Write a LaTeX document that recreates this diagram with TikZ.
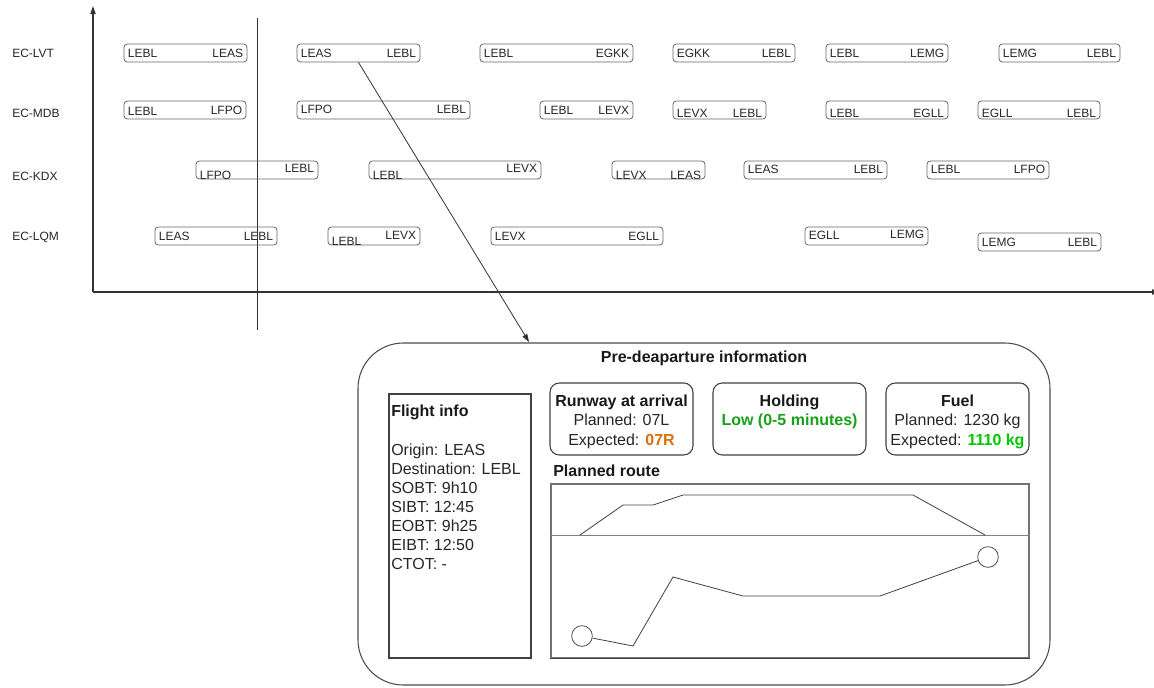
\documentclass[tikz,border=0pt]{standalone}
\usepackage{fontspec}
\setmainfont{Liberation Sans}
\usetikzlibrary{fit,calc,arrows.meta}
\definecolor{runorange}{RGB}{217,112,10}
\definecolor{holdgreen}{RGB}{25,160,25}
\definecolor{fuelgreen}{RGB}{0,200,0}

% one rotation leg: name, x-left, x-right, y-centre, origin, destination, dy origin, dy destination
\newcommand\legbox[8]{%
  \node[legframe, fit={(#2,#4-9) (#3,#4+9)}] (#1) {};
  \node[legtext, anchor=base west] (#1o) at ($(#1.west)+(4,4.3+#7)$) {#5};
  \node[legtext, anchor=base east] (#1d) at ($(#1.east)+(-4,4.3+#8)$) {#6};
}

\begin{document}
\begin{tikzpicture}[x=0.75pt,y=-0.75pt,
  legframe/.style={draw=black!60, rounded corners=2.5pt, inner sep=0pt, line width=0.6pt},
  legtext/.style={font=\fontsize{9}{10}\selectfont, text=black!85, inner sep=0pt},
  reglabel/.style={font=\fontsize{9}{10}\selectfont, text=black!85, inner sep=0pt, anchor=west},
  axisline/.style={draw=black!80, line width=0.8pt, -{Triangle[length=6pt,width=4pt]}},
  conn/.style={draw=black!80, line width=0.6pt, -{Triangle[length=6pt,width=4pt]}},
  panelframe/.style={draw=black!70, line width=0.8pt, rounded corners=34pt, inner sep=0pt},
  infoframe/.style={draw=black!75, line width=0.8pt, rounded corners=7pt, inner sep=0pt},
  plainframe/.style={draw=black!75, line width=0.8pt, inner sep=0pt},
  routeframe/.style={draw=black!55, line width=0.8pt, inner sep=0pt},
  bodytext/.style={font=\fontsize{12}{14}\selectfont, text=black!85, inner sep=0pt},
  headtext/.style={font=\bfseries\fontsize{12}{14}\selectfont, text=black!90, inner sep=0pt},
  routeline/.style={draw=black!75, line width=0.6pt}
]
\useasboundingbox (0,0) rectangle (1154,687);

% axes and the "now" marker
\coordinate (origin) at (93,292);
\coordinate (ytop) at (93,6);
\coordinate (xend) at (1160,292);
\draw[axisline] (origin) -- (ytop);
\draw[axisline] (origin) -- (xend);
\coordinate (nowtop) at (257,18);
\coordinate (nowbot) at (257,330);
\draw[draw=black!80, line width=0.6pt] (nowtop) -- (nowbot);

% registrations
\node[reglabel] (lvt) at (12,53) {EC-LVT};
\node[reglabel] (mdb) at (12,113) {EC-MDB};
\node[reglabel] (kdx) at (12,176) {EC-KDX};
\node[reglabel] (lqm) at (12,237) {EC-LQM};

% EC-LVT
\legbox{a1}{124}{247}{53}{LEBL}{LEAS}{0}{0}
\legbox{a2}{297}{420}{53}{LEAS}{LEBL}{0}{0}
\legbox{a3}{480}{633}{53}{LEBL}{EGKK}{0}{0}
\legbox{a4}{673}{795}{53}{EGKK}{LEBL}{0}{0}
\legbox{a5}{826}{948}{53}{LEBL}{LEMG}{0}{0}
\legbox{a6}{999}{1120}{53}{LEMG}{LEBL}{0}{0}
% EC-MDB
\legbox{b1}{124}{246}{110}{LEBL}{LFPO}{1}{0}
\legbox{b2}{297}{470}{110}{LFPO}{LEBL}{-1}{-1}
\legbox{b3}{540}{633}{110}{LEBL}{LEVX}{0}{0}
\legbox{b4}{673}{766}{110}{LEVX}{LEBL}{3}{3}
\legbox{b5}{826}{948}{110}{LEBL}{EGLL}{3}{3}
\legbox{b6}{978}{1100}{110}{EGLL}{LEBL}{3}{3}
% EC-KDX
\legbox{c1}{196}{318}{170}{LFPO}{LEBL}{5}{-2}
\legbox{c2}{369}{541}{170}{LEBL}{LEVX}{5}{-2}
\legbox{c3}{612}{705}{170}{LEVX}{LEAS}{5}{5}
\legbox{c4}{744}{887}{170}{LEAS}{LEBL}{-1}{-1}
\legbox{c5}{927}{1049}{170}{LEBL}{LFPO}{-1}{-1}
% EC-LQM
\legbox{d1}{155}{277}{236}{LEAS}{LEBL}{0}{0}
\legbox{d2}{328}{420}{236}{LEBL}{LEVX}{5}{-1}
\legbox{d3}{491}{663}{236}{LEVX}{EGLL}{0}{0}
\legbox{d4}{805}{928}{236}{EGLL}{LEMG}{-1}{-2}
\legbox{d5}{978}{1101}{242}{LEMG}{LEBL}{0}{0}

% detail panel for the selected leg
\node[panelframe, fit={(358,343) (1050,685)}] (panel) {};
\coordinate (arrtip) at (529,342);
\draw[conn] (a2.south) -- (arrtip);
\node[headtext] (title) at (704,358) {Pre-deaparture information};

% flight info
\node[plainframe, fit={(389,394) (531,658)}] (finfo) {};
\node[headtext, anchor=base west] (fi0) at (391,416) {Flight info};
\node[bodytext, anchor=base west] (fi1) at (391,455) {Origin: LEAS};
\node[bodytext, anchor=base west] (fi2) at (391,474) {Destination: LEBL};
\node[bodytext, anchor=base west] (fi3) at (391,493) {SOBT: 9h10};
\node[bodytext, anchor=base west] (fi4) at (391,512) {SIBT: 12:45};
\node[bodytext, anchor=base west] (fi5) at (391,531) {EOBT: 9h25};
\node[bodytext, anchor=base west] (fi6) at (391,550) {EIBT: 12:50};
\node[bodytext, anchor=base west] (fi7) at (391,569) {CTOT: -};

% runway
\node[infoframe, fit={(550,383) (693,455)}] (rwy) {};
\node[headtext, anchor=base] (rwy0) at (621.5,406) {Runway at arrival};
\node[bodytext, anchor=base] (rwy1) at (621.5,425) {Planned: 07L};
\node[bodytext, anchor=base] (rwy2) at (621.5,445) {Expected: \textbf{\textcolor{runorange}{07R}}};

% holding
\node[infoframe, fit={(713,383) (866,455)}] (hold) {};
\node[headtext, anchor=base] (hold0) at (789.5,406) {Holding};
\node[headtext, anchor=base, text=holdgreen] (hold1) at (789.5,425) {Low (0-5 minutes)};

% fuel
\node[infoframe, fit={(886,383) (1029,455)}] (fuel) {};
\node[headtext, anchor=base] (fuel0) at (957.5,406) {Fuel};
\node[bodytext, anchor=base] (fuel1) at (957.5,425) {Planned: 1230 kg};
\node[bodytext, anchor=base] (fuel2) at (957.5,445) {Expected: \textbf{\textcolor{fuelgreen}{1110 kg}}};

% planned route: vertical profile above, lateral track below
\node[headtext, anchor=base west] (rtitle) at (553,476) {Planned route};
\node[routeframe, fit={(551,484) (1029,658)}] (route) {};
\draw[draw=black!75, line width=0.8pt] (route.south west) -- (route.south east);
\coordinate (split) at (551,535);
\draw[draw=black!50, line width=0.6pt] (split) -- (split -| route.east);
\draw[routeline] (580,535) -- (623,505) -- (653,505) -- (683,495) -- (913,495) -- (985,535);
\node[circle, draw=black!70, line width=0.6pt, minimum size=15.5pt, inner sep=0pt] (dep) at (582,636) {};
\node[circle, draw=black!70, line width=0.6pt, minimum size=15.5pt, inner sep=0pt] (arr) at (988,557) {};
\draw[routeline] (dep) -- (633,646) -- (673,577) -- (743,596) -- (880,596) -- (arr);
\end{tikzpicture}
\end{document}
